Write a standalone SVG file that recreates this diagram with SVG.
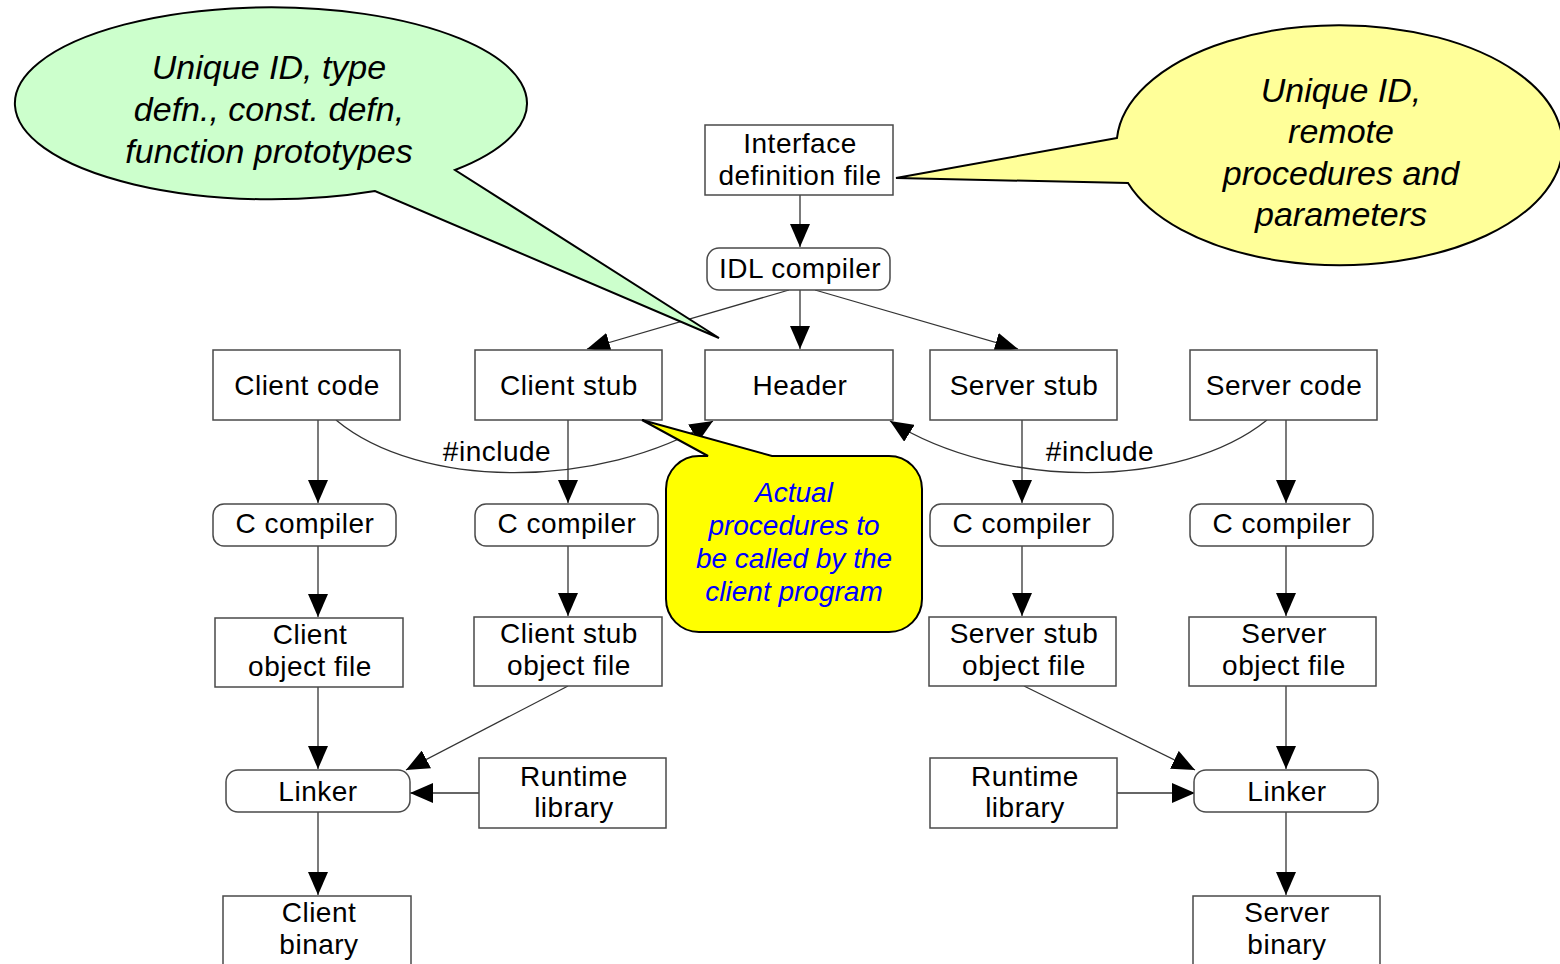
<svg xmlns="http://www.w3.org/2000/svg" width="1560" height="964" viewBox="0 0 1560 964">
  <style>
    .box { fill: #ffffff; stroke: #4a4a4a; stroke-width: 1.5; }
    .lbl { font-family: "Liberation Sans", Arial, sans-serif; font-size: 28px; letter-spacing: 0.5px; fill: #000; text-anchor: middle; }
    .conn { fill: none; stroke: #333; stroke-width: 1.3; marker-end: url(#arrow); }
    .note { font-family: "Liberation Sans", Arial, sans-serif; font-style: italic; text-anchor: middle; }
  </style>
  <defs>
    <marker id="arrow" markerUnits="userSpaceOnUse" markerWidth="24" markerHeight="20" refX="23" refY="10" orient="auto">
      <path d="M0,0 L23,10 L0,20 Z" fill="#000"/>
    </marker>
  </defs>
  <rect width="1560" height="964" fill="#fff"/>

  <!-- connectors -->
  <g id="connectors">
    <line class="conn" x1="800" y1="195" x2="800" y2="247"/>
    <line class="conn" x1="800" y1="290" x2="800" y2="349"/>
    <line class="conn" x1="789" y1="290" x2="587" y2="349"/>
    <line class="conn" x1="815" y1="290" x2="1018" y2="349"/>

    <line class="conn" x1="318" y1="420" x2="318" y2="503"/>
    <line class="conn" x1="568" y1="420" x2="568" y2="503"/>
    <line class="conn" x1="1022" y1="420" x2="1022" y2="503"/>
    <line class="conn" x1="1286" y1="420" x2="1286" y2="503"/>

    <line class="conn" x1="318" y1="546" x2="318" y2="617"/>
    <line class="conn" x1="568" y1="546" x2="568" y2="616"/>
    <line class="conn" x1="1022" y1="546" x2="1022" y2="616"/>
    <line class="conn" x1="1286" y1="546" x2="1286" y2="616"/>

    <line class="conn" x1="318" y1="687" x2="318" y2="769"/>
    <line class="conn" x1="568" y1="686" x2="406" y2="770"/>
    <line class="conn" x1="479" y1="793" x2="410" y2="793"/>
    <line class="conn" x1="318" y1="812" x2="318" y2="895"/>

    <line class="conn" x1="1024" y1="686" x2="1195" y2="770"/>
    <line class="conn" x1="1117" y1="793" x2="1195" y2="793"/>
    <line class="conn" x1="1286" y1="686" x2="1286" y2="769"/>
    <line class="conn" x1="1286" y1="812" x2="1286" y2="895"/>

    <!-- #include dependencies on the header -->
    <path class="conn" d="M336,420 C420,490 600,490 713,421"/>
    <path class="conn" d="M1267,420 C1180,490 1000,490 890,421"/>
    <text class="lbl" x="497" y="461">#include</text>
    <text class="lbl" x="1100" y="461">#include</text>
  </g>

  <!-- nodes -->
  <g id="idl-file">
    <rect class="box" x="705" y="125" width="188" height="70"/>
    <text class="lbl" x="800" y="153">Interface</text>
    <text class="lbl" x="800" y="185">definition file</text>
  </g>
  <g id="idl-compiler">
    <rect class="box" x="707" y="248" width="183" height="42" rx="12"/>
    <text class="lbl" x="800" y="278">IDL compiler</text>
  </g>

  <g id="client-code">
    <rect class="box" x="213" y="350" width="187" height="70"/>
    <text class="lbl" x="307" y="395">Client code</text>
  </g>
  <g id="client-stub">
    <rect class="box" x="475" y="350" width="187" height="70"/>
    <text class="lbl" x="569" y="395">Client stub</text>
  </g>
  <g id="header">
    <rect class="box" x="705" y="350" width="188" height="70"/>
    <text class="lbl" x="800" y="395">Header</text>
  </g>
  <g id="server-stub">
    <rect class="box" x="930" y="350" width="187" height="70"/>
    <text class="lbl" x="1024" y="395">Server stub</text>
  </g>
  <g id="server-code">
    <rect class="box" x="1190" y="350" width="187" height="70"/>
    <text class="lbl" x="1284" y="395">Server code</text>
  </g>

  <g id="cc-client">
    <rect class="box" x="213" y="504" width="183" height="42" rx="11"/>
    <text class="lbl" x="305" y="533">C compiler</text>
  </g>
  <g id="cc-client-stub">
    <rect class="box" x="475" y="504" width="183" height="42" rx="11"/>
    <text class="lbl" x="567" y="533">C compiler</text>
  </g>
  <g id="cc-server-stub">
    <rect class="box" x="930" y="504" width="183" height="42" rx="11"/>
    <text class="lbl" x="1022" y="533">C compiler</text>
  </g>
  <g id="cc-server">
    <rect class="box" x="1190" y="504" width="183" height="42" rx="11"/>
    <text class="lbl" x="1282" y="533">C compiler</text>
  </g>

  <g id="client-obj">
    <rect class="box" x="215" y="618" width="188" height="69"/>
    <text class="lbl" x="310" y="644">Client</text>
    <text class="lbl" x="310" y="676">object file</text>
  </g>
  <g id="client-stub-obj">
    <rect class="box" x="474" y="617" width="188" height="69"/>
    <text class="lbl" x="569" y="643">Client stub</text>
    <text class="lbl" x="569" y="675">object file</text>
  </g>
  <g id="server-stub-obj">
    <rect class="box" x="929" y="617" width="187" height="69"/>
    <text class="lbl" x="1024" y="643">Server stub</text>
    <text class="lbl" x="1024" y="675">object file</text>
  </g>
  <g id="server-obj">
    <rect class="box" x="1189" y="617" width="187" height="69"/>
    <text class="lbl" x="1284" y="643">Server</text>
    <text class="lbl" x="1284" y="675">object file</text>
  </g>

  <g id="linker-client">
    <rect class="box" x="226" y="770" width="184" height="42" rx="12"/>
    <text class="lbl" x="318" y="801">Linker</text>
  </g>
  <g id="runtime-client">
    <rect class="box" x="479" y="758" width="187" height="70"/>
    <text class="lbl" x="574" y="786">Runtime</text>
    <text class="lbl" x="574" y="817">library</text>
  </g>
  <g id="runtime-server">
    <rect class="box" x="930" y="758" width="187" height="70"/>
    <text class="lbl" x="1025" y="786">Runtime</text>
    <text class="lbl" x="1025" y="817">library</text>
  </g>
  <g id="linker-server">
    <rect class="box" x="1194" y="770" width="184" height="42" rx="12"/>
    <text class="lbl" x="1287" y="801">Linker</text>
  </g>

  <g id="client-binary">
    <rect class="box" x="223" y="896" width="188" height="80"/>
    <text class="lbl" x="319" y="922">Client</text>
    <text class="lbl" x="319" y="954">binary</text>
  </g>
  <g id="server-binary">
    <rect class="box" x="1193" y="896" width="187" height="80"/>
    <text class="lbl" x="1287" y="922">Server</text>
    <text class="lbl" x="1287" y="954">binary</text>
  </g>

  <!-- callouts -->
  <g id="note-header">
    <path d="M455,170 A256,96 0 1 0 375,191 L719,338 Z" fill="#ccffcc" stroke="#000" stroke-width="2"/>
    <text class="note" font-size="34" x="269" y="79">Unique ID, type</text>
    <text class="note" font-size="34" x="269" y="121">defn., const. defn,</text>
    <text class="note" font-size="34" x="269" y="163">function prototypes</text>
  </g>
  <g id="note-idl">
    <path d="M1117,138 L896,178 L1128,183 A223,120 0 1 0 1117,138 Z" fill="#ffff99" stroke="#000" stroke-width="2"/>
    <text class="note" font-size="34" x="1341" y="102">Unique ID,</text>
    <text class="note" font-size="34" x="1341" y="143">remote</text>
    <text class="note" font-size="34" x="1341" y="185">procedures and</text>
    <text class="note" font-size="34" x="1341" y="226">parameters</text>
  </g>
  <g id="note-stub">
    <path d="M666,489 A33,33 0 0 1 699,456 L708,456 L642,420 L772,456 L889,456 A33,33 0 0 1 922,489 L922,599 A33,33 0 0 1 889,632 L699,632 A33,33 0 0 1 666,599 Z" fill="#ffff00" stroke="#000" stroke-width="2"/>
    <text class="note" font-size="28" fill="#0000ff" x="794" y="502">Actual</text>
    <text class="note" font-size="28" fill="#0000ff" x="794" y="535">procedures to</text>
    <text class="note" font-size="28" fill="#0000ff" x="794" y="568">be called by the</text>
    <text class="note" font-size="28" fill="#0000ff" x="794" y="601">client program</text>
  </g>
</svg>
